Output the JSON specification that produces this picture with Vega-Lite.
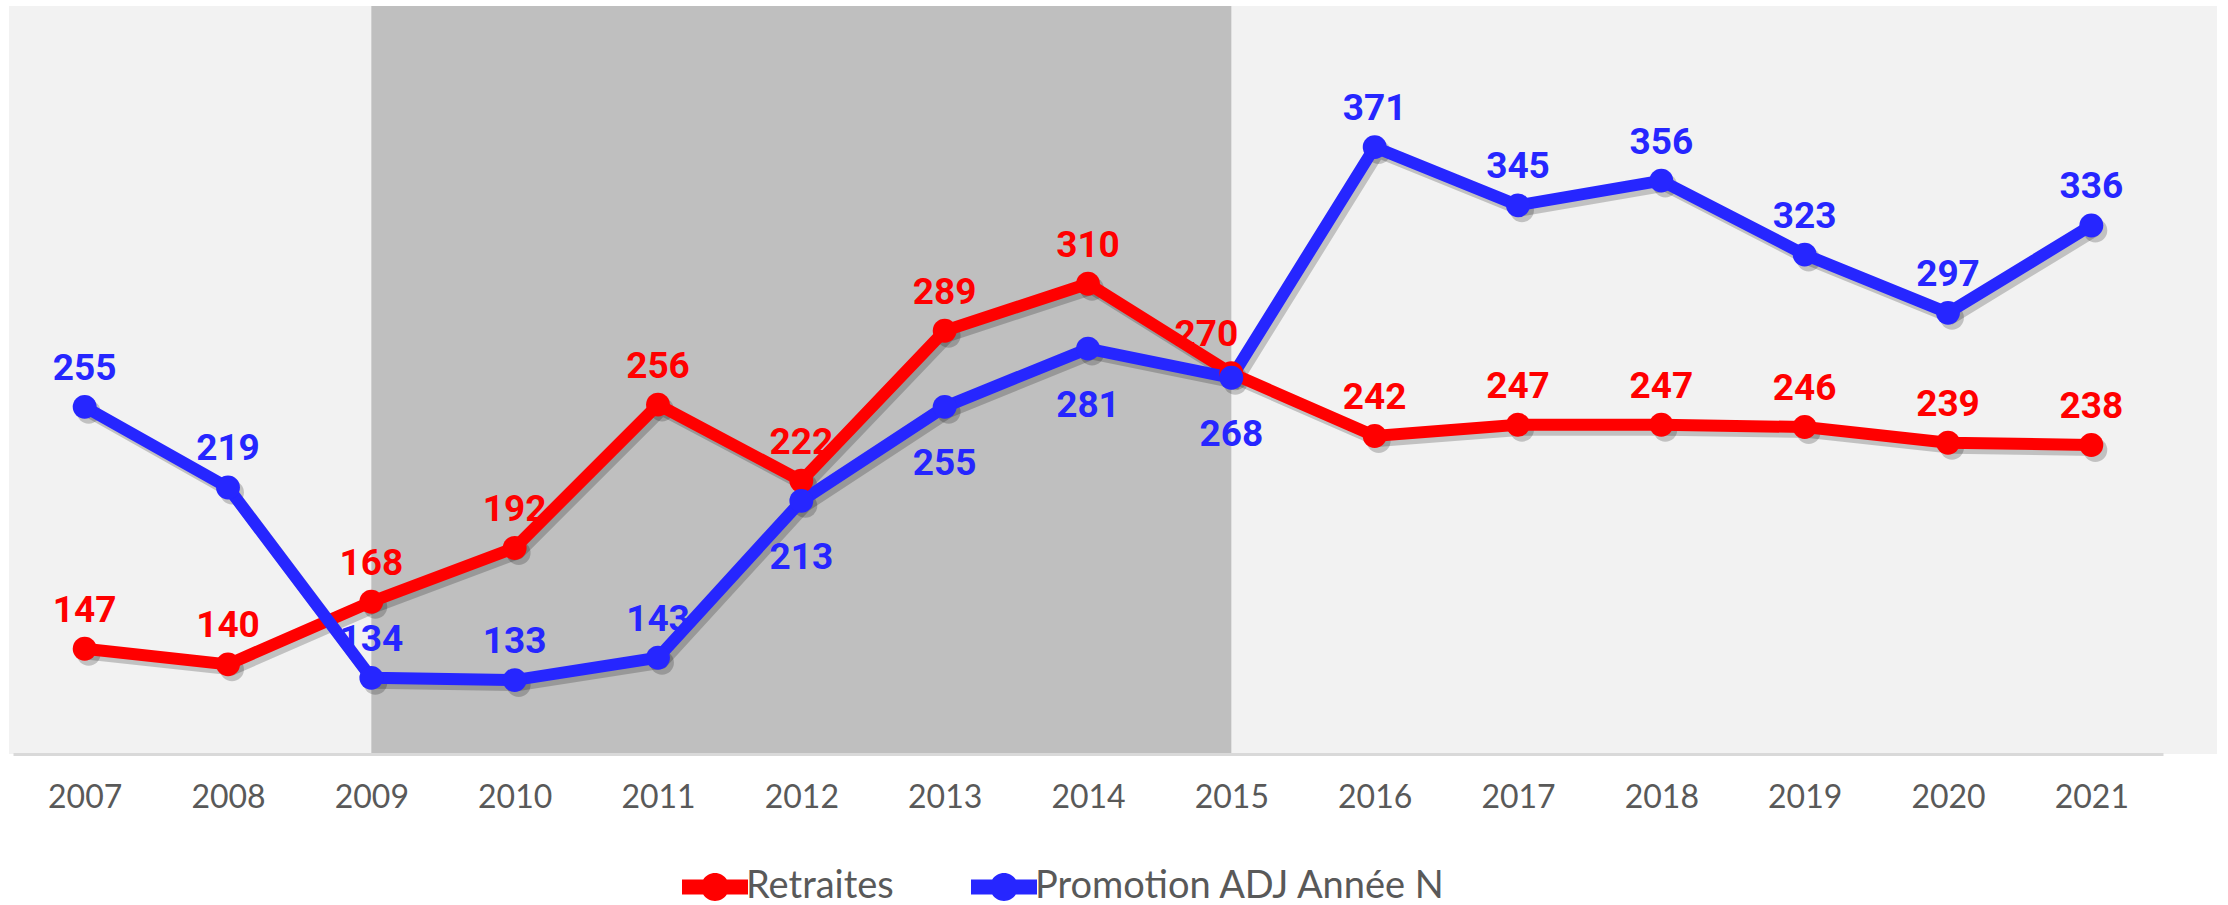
{
  "$schema": "https://vega.github.io/schema/vega-lite/v6.json",
  "autosize": {"type": "none"},
  "width": 2208,
  "height": 748,
  "padding": {"left": 9, "top": 6, "right": 11, "bottom": 151},
  "background": "white",
  "config": {
    "view": {"fill": "#f2f2f2", "stroke": null},
    "axis": {"labelFont": "Lato", "labelColor": "#595959"},
    "legend": {"labelFont": "Lato", "labelColor": "#595959"}
  },
  "datasets": {
    "series": [
      {"year": "2007", "series": "Retraites", "value": 147},
      {"year": "2008", "series": "Retraites", "value": 140},
      {"year": "2009", "series": "Retraites", "value": 168},
      {"year": "2010", "series": "Retraites", "value": 192},
      {"year": "2011", "series": "Retraites", "value": 256},
      {"year": "2012", "series": "Retraites", "value": 222},
      {"year": "2013", "series": "Retraites", "value": 289},
      {"year": "2014", "series": "Retraites", "value": 310},
      {"year": "2015", "series": "Retraites", "value": 270},
      {"year": "2016", "series": "Retraites", "value": 242},
      {"year": "2017", "series": "Retraites", "value": 247},
      {"year": "2018", "series": "Retraites", "value": 247},
      {"year": "2019", "series": "Retraites", "value": 246},
      {"year": "2020", "series": "Retraites", "value": 239},
      {"year": "2021", "series": "Retraites", "value": 238},
      {"year": "2007", "series": "Promotion ADJ Année N", "value": 255},
      {"year": "2008", "series": "Promotion ADJ Année N", "value": 219},
      {"year": "2009", "series": "Promotion ADJ Année N", "value": 134},
      {"year": "2010", "series": "Promotion ADJ Année N", "value": 133},
      {"year": "2011", "series": "Promotion ADJ Année N", "value": 143},
      {"year": "2012", "series": "Promotion ADJ Année N", "value": 213},
      {"year": "2013", "series": "Promotion ADJ Année N", "value": 255},
      {"year": "2014", "series": "Promotion ADJ Année N", "value": 281},
      {"year": "2015", "series": "Promotion ADJ Année N", "value": 268},
      {"year": "2016", "series": "Promotion ADJ Année N", "value": 371},
      {"year": "2017", "series": "Promotion ADJ Année N", "value": 345},
      {"year": "2018", "series": "Promotion ADJ Année N", "value": 356},
      {"year": "2019", "series": "Promotion ADJ Année N", "value": 323},
      {"year": "2020", "series": "Promotion ADJ Année N", "value": 297},
      {"year": "2021", "series": "Promotion ADJ Année N", "value": 336}
    ],
    "band": [{"start": "2009", "end": "2015"}]
  },
  "encoding": {
    "x": {
      "field": "year", "type": "ordinal",
      "scale": {"type": "point", "range": [4, 2154], "padding": 0.5},
      "axis": {
        "title": null, "labelAngle": 0, "ticks": false,
        "labelFontSize": 32, "labelPadding": 28,
        "domainColor": "#d9d9d9", "domainWidth": 3
      }
    }
  },
  "layer": [
    {
      "data": {"name": "band"},
      "mark": {"type": "rect", "color": "#bfbfbf"},
      "encoding": {
        "x": {"field": "start", "type": "ordinal"},
        "x2": {"field": "end"}
      }
    },
    {
      "data": {"name": "series"},
      "layer": [
        {
          "mark": {"type": "line", "strokeWidth": 12, "color": "#000000", "opacity": 0.2, "xOffset": 4, "yOffset": 5},
          "encoding": {
            "y": {"field": "value", "type": "quantitative", "scale": {"domain": [100, 434], "zero": false, "nice": false}, "axis": null},
            "detail": {"field": "series"}
          }
        },
        {
          "mark": {"type": "point", "filled": true, "shape": "circle", "size": 570, "color": "#000000", "opacity": 0.2, "xOffset": 4, "yOffset": 5},
          "encoding": {
            "y": {"field": "value", "type": "quantitative"},
            "detail": {"field": "series"}
          }
        },
        {
          "mark": {"type": "line", "strokeWidth": 12},
          "encoding": {
            "y": {"field": "value", "type": "quantitative"},
            "color": {
              "field": "series", "type": "nominal",
              "scale": {"domain": ["Retraites", "Promotion ADJ Année N"], "range": ["#ff0000", "#2626ff"]},
              "legend": {
                "orient": "none", "direction": "horizontal", "title": null,
                "legendX": 687, "legendY": 862,
                "symbolType": "M-2.2,-0.5L-0.784,-0.5A0.93,0.93,0,0,1,0.784,-0.5L2.2,-0.5L2.2,0.5L0.784,0.5A0.93,0.93,0,0,1,-0.784,0.5L-2.2,0.5Z",
                "symbolSize": 900, "symbolStrokeWidth": 0, "symbolOpacity": 1,
                "labelFontSize": 38, "labelLimit": 1000, "labelOffset": 12, "columnPadding": 77, "padding": 0
              }
            }
          }
        },
        {
          "mark": {"type": "point", "filled": true, "shape": "circle", "size": 570, "opacity": 1},
          "encoding": {
            "y": {"field": "value", "type": "quantitative"},
            "color": {"field": "series", "type": "nominal"}
          }
        },
        {
          "transform": [{"filter": "datum.series == 'Retraites' && datum.year != '2015'"}],
          "mark": {"type": "text", "font": "Roboto", "fontWeight": "bold", "fontSize": 37, "baseline": "alphabetic", "dy": -27},
          "encoding": {
            "y": {"field": "value", "type": "quantitative"},
            "text": {"field": "value"},
            "color": {"field": "series", "type": "nominal"}
          }
        },
        {
          "transform": [{"filter": "datum.series == 'Retraites' && datum.year == '2015'"}],
          "mark": {"type": "text", "font": "Roboto", "fontWeight": "bold", "fontSize": 37, "baseline": "alphabetic", "dy": -27, "dx": -25},
          "encoding": {
            "y": {"field": "value", "type": "quantitative"},
            "text": {"field": "value"},
            "color": {"field": "series", "type": "nominal"}
          }
        },
        {
          "transform": [{"filter": "datum.series != 'Retraites' && indexof(['2012','2013','2014','2015'], datum.year) < 0"}],
          "mark": {"type": "text", "font": "Roboto", "fontWeight": "bold", "fontSize": 37, "baseline": "alphabetic", "dy": -27},
          "encoding": {
            "y": {"field": "value", "type": "quantitative"},
            "text": {"field": "value"},
            "color": {"field": "series", "type": "nominal"}
          }
        },
        {
          "transform": [{"filter": "datum.series != 'Retraites' && indexof(['2012','2013','2014','2015'], datum.year) >= 0"}],
          "mark": {"type": "text", "font": "Roboto", "fontWeight": "bold", "fontSize": 37, "baseline": "alphabetic", "dy": 68},
          "encoding": {
            "y": {"field": "value", "type": "quantitative"},
            "text": {"field": "value"},
            "color": {"field": "series", "type": "nominal"}
          }
        }
      ]
    }
  ]
}
